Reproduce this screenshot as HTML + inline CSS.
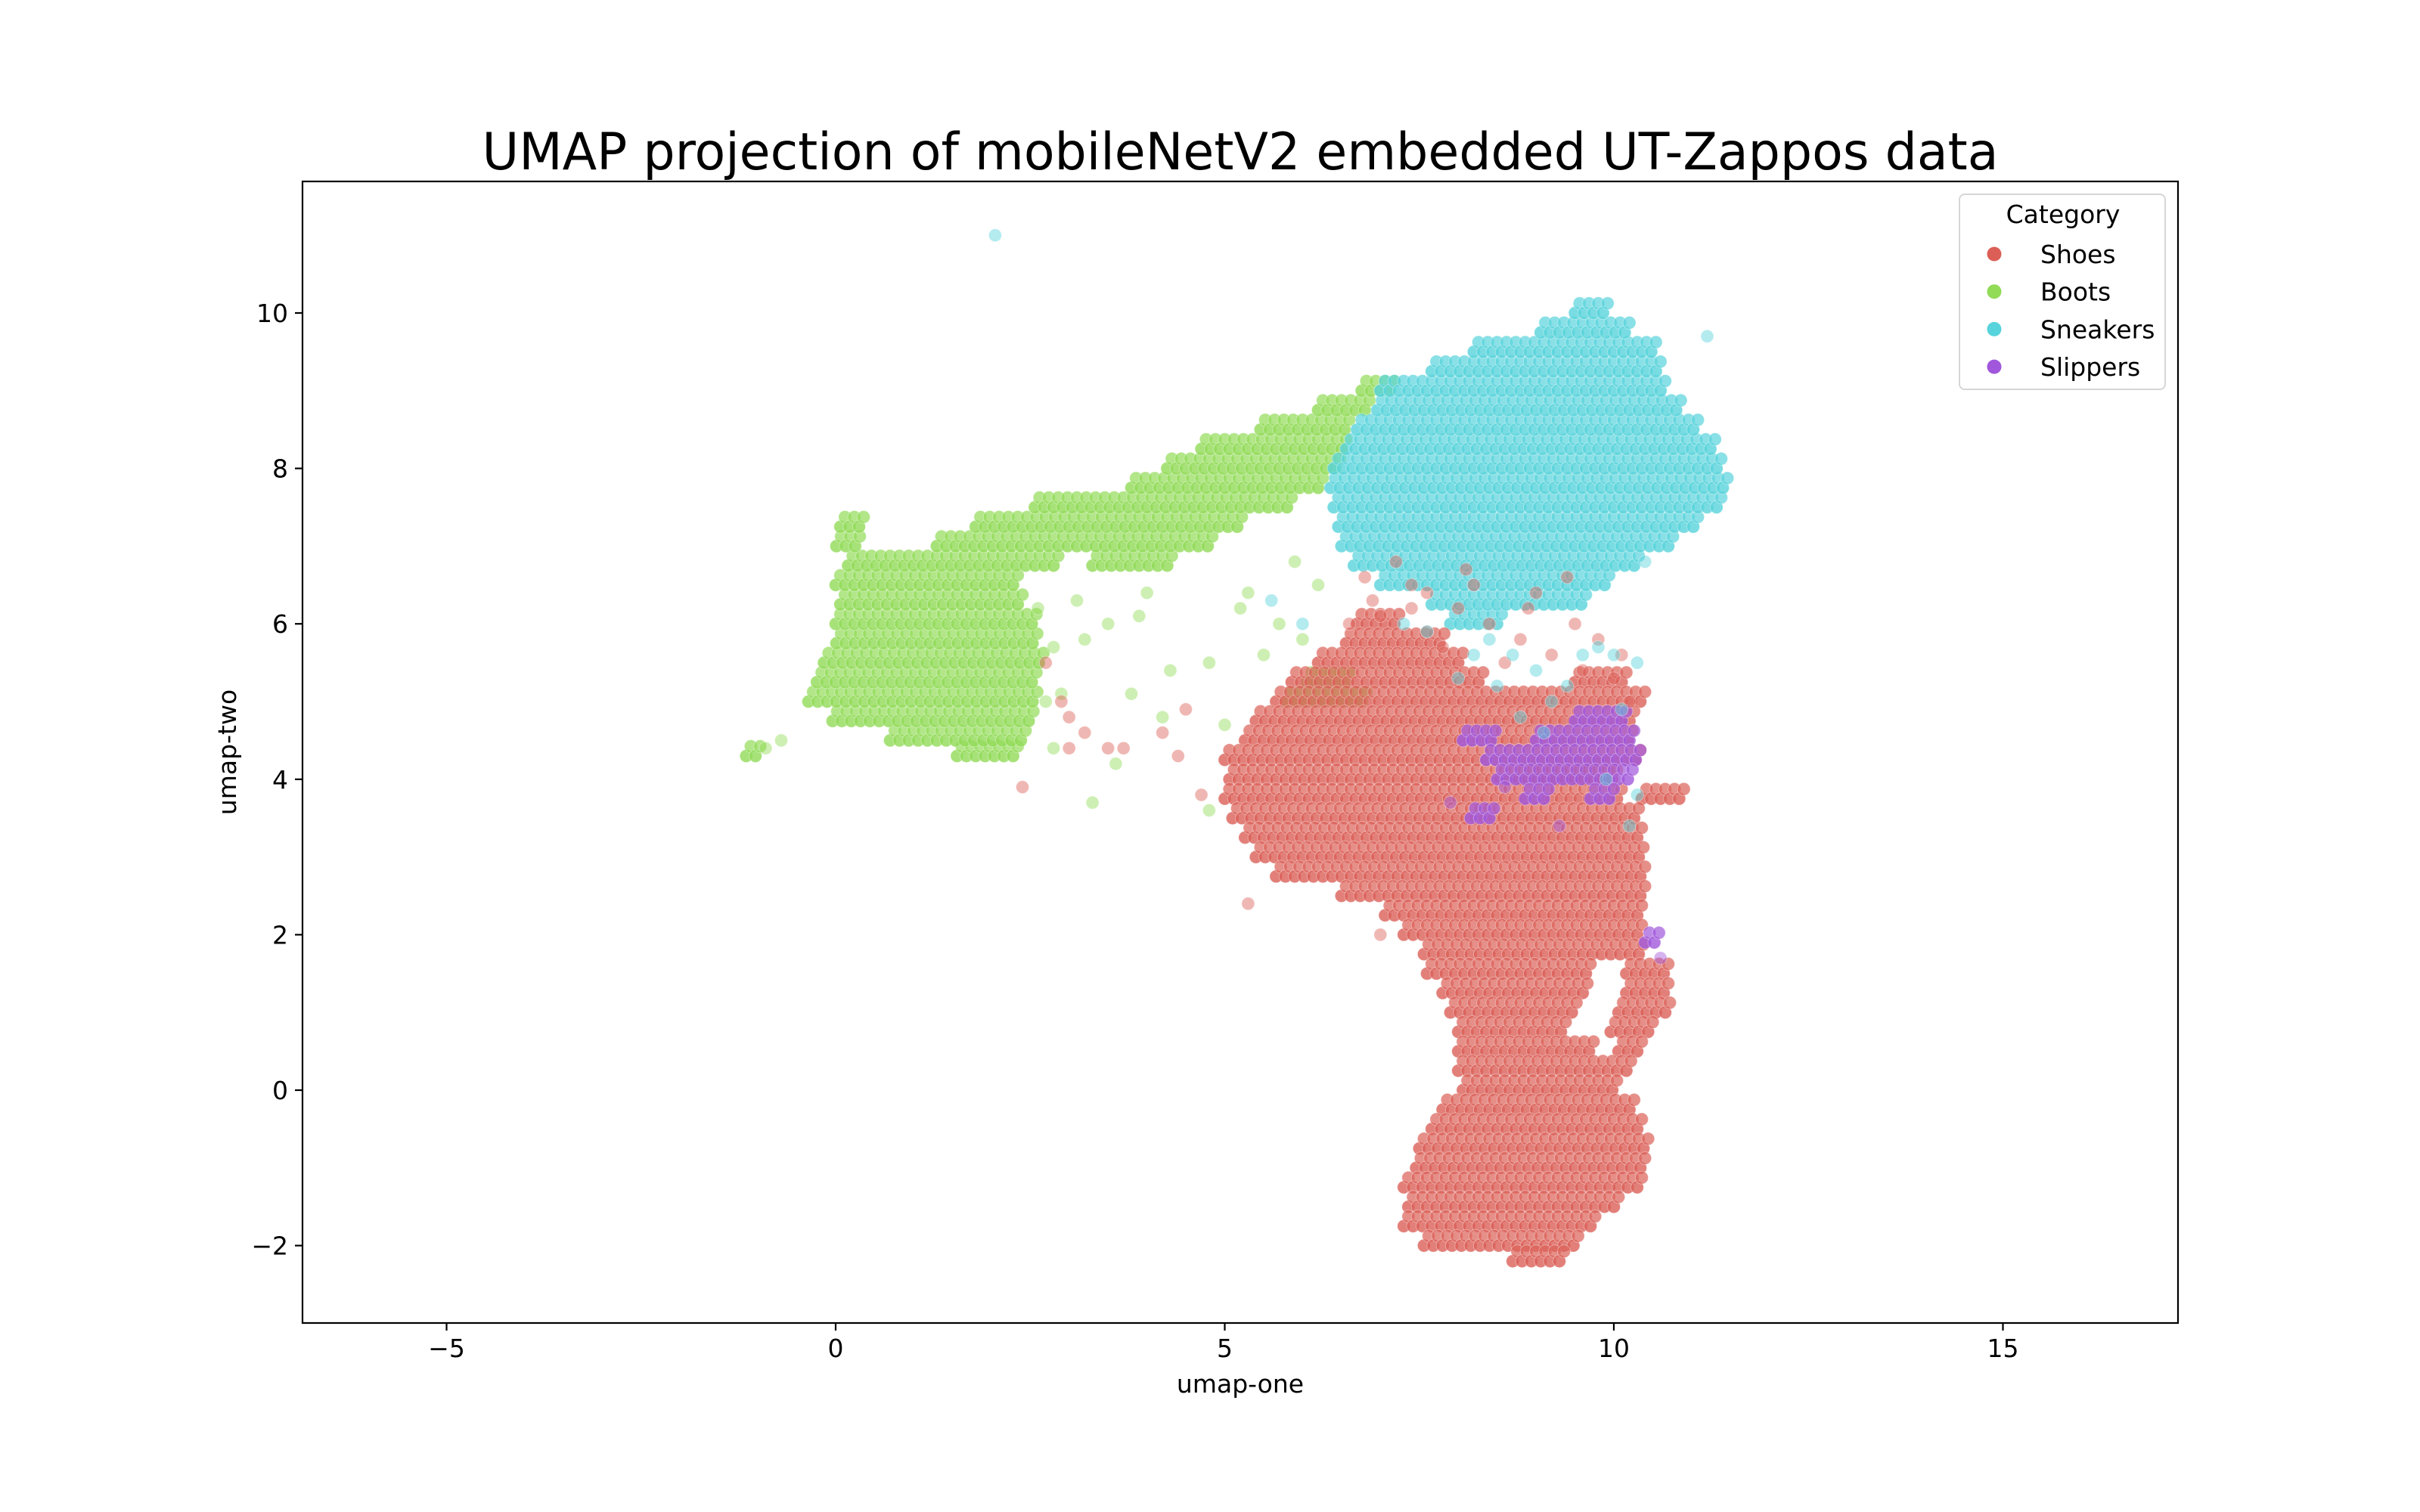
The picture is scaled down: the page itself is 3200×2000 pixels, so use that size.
<!DOCTYPE html>
<html>
<head>
<meta charset="utf-8">
<style>
html,body{margin:0;padding:0;background:#fff;}
svg{display:block;}
text{font-family:"DejaVu Sans","Liberation Sans",sans-serif;fill:#000;}
</style>
</head>
<body>
<svg id="chart" width="3200" height="2000" viewBox="0 0 3200 2000" xmlns="http://www.w3.org/2000/svg">
  <rect x="0" y="0" width="3200" height="2000" fill="#fff"/>
  <text x="1640" y="224" font-size="68" text-anchor="middle" textLength="2005" lengthAdjust="spacingAndGlyphs">UMAP projection of mobileNetV2 embedded UT-Zappos data</text>
  <g id="points"></g>
  <g id="axes"></g>
  <text x="1640" y="1842" font-size="33" text-anchor="middle">umap-one</text>
  <text x="0" y="0" font-size="33" text-anchor="middle" transform="translate(312,995) rotate(-90)">umap-two</text>
  <g id="legend"></g>
</svg>
<script>
// ---- data ----
const categories = ["Shoes","Boots","Sneakers","Slippers"];
const colors = ["#db5f57","#91db57","#57d3db","#a157db"];
const xTicks = [-5,0,5,10,15];
const yTicks = [-2,0,2,4,6,8,10];
// dense regions: [y, x0, x1] spans
const bootsSpans = [
 [4.3,-1.15,-1.0],[4.3,1.5,2.3],[4.5,0.7,2.4],[4.75,-0.1,2.5],[5.0,-0.35,2.6],[5.25,-0.3,2.6],
 [5.5,-0.15,2.7],[5.75,-0.05,2.6],[6.0,0.0,2.6],[6.25,0.0,2.4],[6.5,0.0,2.3],[6.75,0.1,2.9],
 [6.75,3.3,4.3],[7.0,-0.05,0.35],[7.0,1.3,4.8],[7.25,0.0,0.3],[7.25,1.8,5.2],[7.5,2.5,5.8],
 [7.75,3.8,6.2],[8.0,4.2,6.5],[8.25,4.7,6.5],[8.5,5.4,6.6],[8.75,6.2,6.9],[9.0,6.7,7.2],
 [5.0,5.8,6.8],[5.25,6.0,6.6]
];
const sneakersSpans = [
 [6.0,7.9,8.6],[6.25,7.6,9.6],[6.5,7.0,9.9],[6.75,6.6,10.3],[7.0,6.5,10.8],[7.25,6.4,11.1],
 [7.5,6.4,11.4],[7.75,6.3,11.5],[8.0,6.4,11.4],[8.25,6.5,11.3],[8.5,6.7,11.1],[8.75,6.9,10.9],
 [9.0,7.0,10.7],[9.25,7.6,10.6],[9.5,8.2,10.5],[9.75,9.0,10.2],[10.0,9.5,9.9]
];
const shoesSpans = [
 [6.0,6.7,7.2],[5.75,6.5,7.8],[5.5,6.2,8.0],[5.25,5.8,8.3],[5.25,9.5,10.1],[5.0,5.6,10.4],
 [4.75,5.4,10.3],[4.5,5.2,10.2],[4.25,5.0,10.3],[4.0,5.0,10.0],[3.75,5.0,10.1],[3.75,10.3,10.9],
 [3.5,5.1,10.3],[3.25,5.2,10.4],[3.0,5.4,10.4],[2.75,5.6,10.4],[2.5,6.5,10.4],[2.25,7.0,10.4],
 [2.0,7.3,10.4],[1.75,7.5,10.4],[1.5,7.6,9.7],[1.5,10.1,10.7],[1.25,7.8,9.6],[1.25,10.1,10.7],
 [1.0,7.9,9.5],[1.0,10.0,10.7],[0.75,8.0,9.4],[0.75,9.9,10.5],[0.5,8.0,9.7],[0.5,10.0,10.3],
 [0.25,8.0,10.2],[0.0,8.0,10.0],[-0.25,7.8,10.2],[-0.5,7.6,10.3],[-0.75,7.5,10.4],[-1.0,7.4,10.4],
 [-1.25,7.3,10.3],[-1.5,7.3,10.1],[-1.75,7.3,9.8],[-2.0,7.5,9.5],[-2.2,8.7,9.3]
];
const slippersSpans = [
 [4.75,9.5,10.1],[4.5,8.0,8.5],[4.5,9.0,10.3],[4.25,8.3,10.3],[4.0,8.5,10.2],
 [3.75,8.8,9.2],[3.75,9.7,10.0],[3.5,8.1,8.4],[1.9,10.4,10.6]
];
// sparse points
const shoesX = [2.9,3.0,3.2,3.5,3.7,4.2,4.4,4.7,4.5,2.7,2.4,7.0,5.3,3.0,6.9,7.4,8.2,9.4,10.1,7.6,
  6.8,7.2,7.6,8.0,8.4,8.8,9.2,9.6,10.0,7.0,7.8,8.6,9.0,9.8,10.2,6.6,7.4,8.1,8.9,9.5];
const shoesY = [5.0,4.8,4.6,4.4,4.4,4.6,4.3,3.8,4.9,5.5,3.9,2.0,2.4,4.4,6.3,6.2,6.5,6.6,5.6,5.9,
  6.6,6.8,6.4,6.2,6.0,5.8,5.6,5.4,5.3,6.1,5.7,5.5,6.4,5.8,5.0,6.0,6.5,6.7,6.2,6.0];
const bootsX = [3.5,3.2,2.9,4.0,4.3,4.8,3.8,3.1,5.2,4.8,3.3,5.0,4.2,3.6,-0.7,-0.9,5.3,5.5,2.8,3.9,
  2.7,2.8,2.6,5.9,6.2,5.7,6.0];
const bootsY = [6.0,5.8,5.1,6.4,5.4,5.5,5.1,6.3,6.2,3.6,3.7,4.7,4.8,4.2,4.5,4.4,6.4,5.6,4.4,6.1,
  5.0,5.7,6.2,6.8,6.5,6.0,5.8];
const sneakersX = [2.05,8.5,9.2,9.6,10.0,10.1,8.8,9.9,10.2,10.3,7.3,5.6,6.0,9.0,8.2,10.4,11.2,
  8.0,8.7,9.4,9.8,10.3,7.6,8.4,9.1];
const sneakersY = [11.0,5.2,5.0,5.6,5.6,4.9,4.8,4.0,3.4,3.8,6.0,6.3,6.0,5.4,5.6,6.8,9.7,
  5.3,5.6,5.2,5.7,5.5,5.9,5.8,4.6];
const slippersX = [8.6,7.9,10.6,9.3];
const slippersY = [3.9,3.7,1.7,3.4];

// ---- scales ----
const AX = {left:400, right:2880, top:240, bottom:1750};
const X0 = 1105, XU = 102.9, Y0 = 1442, YU = 102.8;
function xs(v){ return X0 + v*XU; }
function ys(v){ return Y0 - v*YU; }

const NS = "http://www.w3.org/2000/svg";
const gP = document.getElementById("points");
function dot(x,y,c,op,name){
  const el = document.createElementNS(NS,"circle");
  el.setAttribute("cx",xs(x).toFixed(1));
  el.setAttribute("cy",ys(y).toFixed(1));
  el.setAttribute("r","8.5");
  el.setAttribute("fill",c);
  el.setAttribute("fill-opacity",op);
  el.setAttribute("stroke","#fff");
  el.setAttribute("stroke-opacity","0.35");
  el.setAttribute("stroke-width","1");
  
  
  gP.appendChild(el);
}
function drawSpans(spans,c,name){
  const step = 0.12;
  spans.forEach((s,i)=>{
    const off = (i%2)*step/2;
    for(let x=s[1]+off; x<=s[2]+1e-6; x+=step){
      dot(x,s[0],c,0.8,name);
      dot(x+step/2,s[0]+0.125,c,0.7,name);
    }
  });
}
function drawPts(xa,ya,c,name){
  for(let i=0;i<xa.length;i++) dot(xa[i],ya[i],c,0.45,name);
}
drawSpans(bootsSpans,colors[1],"boots-point");
drawSpans(sneakersSpans,colors[2],"sneakers-point");
drawSpans(shoesSpans,colors[0],"shoes-point");
drawSpans(slippersSpans,colors[3],"slippers-point");
drawPts(bootsX,bootsY,colors[1],"boots-point");
drawPts(shoesX,shoesY,colors[0],"shoes-point");
drawPts(sneakersX,sneakersY,colors[2],"sneakers-point");
drawPts(slippersX,slippersY,colors[3],"slippers-point");

// ---- axes ----
const gA = document.getElementById("axes");
const frame = document.createElementNS(NS,"rect");
frame.setAttribute("x",AX.left); frame.setAttribute("y",AX.top);
frame.setAttribute("width",AX.right-AX.left); frame.setAttribute("height",AX.bottom-AX.top);
frame.setAttribute("fill","none"); frame.setAttribute("stroke","#000"); frame.setAttribute("stroke-width","2.2");


gA.appendChild(frame);
function fmt(v){ return v<0 ? "\u2212"+Math.abs(v) : String(v); }
xTicks.forEach(v=>{
  const x = xs(v);
  const t = document.createElementNS(NS,"line");
  t.setAttribute("x1",x); t.setAttribute("x2",x); t.setAttribute("y1",AX.bottom); t.setAttribute("y2",AX.bottom+10);
  t.setAttribute("stroke","#000"); t.setAttribute("stroke-width","2.2");
  
  
  gA.appendChild(t);
  const l = document.createElementNS(NS,"text");
  l.setAttribute("x",x); l.setAttribute("y",AX.bottom+45);
  l.setAttribute("font-size","33"); l.setAttribute("text-anchor","middle");
  l.textContent = fmt(v);
  
  
  gA.appendChild(l);
});
yTicks.forEach(v=>{
  const y = ys(v);
  const t = document.createElementNS(NS,"line");
  t.setAttribute("x1",AX.left-10); t.setAttribute("x2",AX.left); t.setAttribute("y1",y); t.setAttribute("y2",y);
  t.setAttribute("stroke","#000"); t.setAttribute("stroke-width","2.2");
  
  
  gA.appendChild(t);
  const l = document.createElementNS(NS,"text");
  l.setAttribute("x",AX.left-19); l.setAttribute("y",y+12);
  l.setAttribute("font-size","33"); l.setAttribute("text-anchor","end");
  l.textContent = fmt(v);
  
  
  gA.appendChild(l);
});

// ---- legend ----
const gL = document.getElementById("legend");
const box = document.createElementNS(NS,"rect");
box.setAttribute("x","2591"); box.setAttribute("y","257"); box.setAttribute("width","272"); box.setAttribute("height","258");
box.setAttribute("rx","7"); box.setAttribute("fill","#fff"); box.setAttribute("fill-opacity","0.8");
box.setAttribute("stroke","#d6d6d6"); box.setAttribute("stroke-width","2");


gL.appendChild(box);
const lt = document.createElementNS(NS,"text");
lt.setAttribute("x","2728"); lt.setAttribute("y","295"); lt.setAttribute("font-size","33"); lt.setAttribute("text-anchor","middle");
lt.textContent = "Category";


gL.appendChild(lt);
categories.forEach((c,i)=>{
  const y = 336 + i*49.7;
  const m = document.createElementNS(NS,"circle");
  m.setAttribute("cx","2637"); m.setAttribute("cy",y); m.setAttribute("r","9.5"); m.setAttribute("fill",colors[i]);
  
  
  gL.appendChild(m);
  const t = document.createElementNS(NS,"text");
  t.setAttribute("x","2698"); t.setAttribute("y",y+12); t.setAttribute("font-size","33");
  t.textContent = c;
  
  
  gL.appendChild(t);
});
</script>
</body>
</html>
